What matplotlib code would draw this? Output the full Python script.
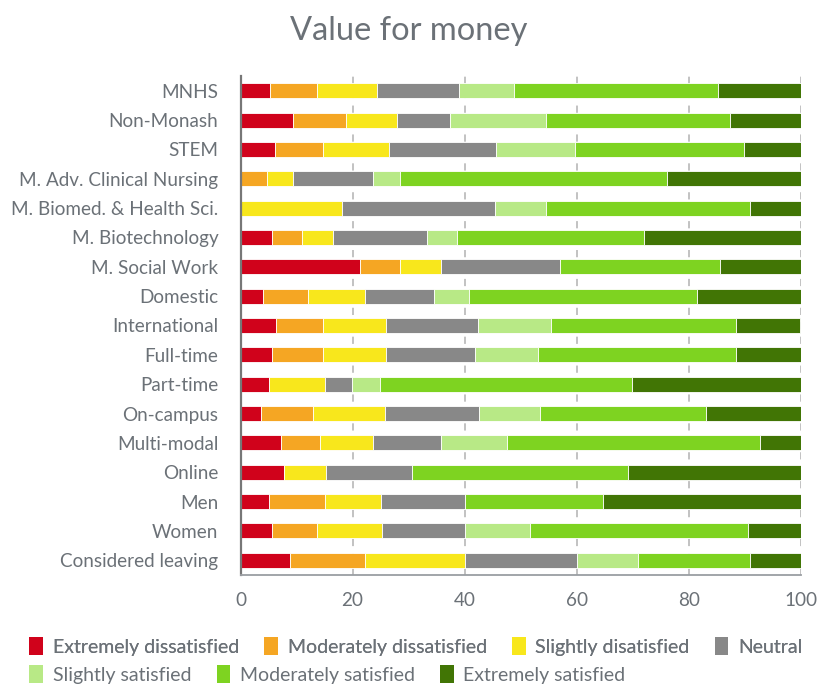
import numpy as np
import matplotlib
matplotlib.use("Agg")
import matplotlib.pyplot as plt
from matplotlib.patches import Patch

plt.rcParams['font.family'] = ['Lato', 'DejaVu Sans']

# categories, top to bottom
groups = ["MNHS", "Non-Monash", "STEM", "M. Adv. Clinical Nursing",
          "M. Biomed. & Health Sci.", "M. Biotechnology", "M. Social Work",
          "Domestic", "International", "Full-time", "Part-time", "On-campus",
          "Multi-modal", "Online", "Men", "Women", "Considered leaving"]

# percentages per response level (same order as groups)
extremely_dissatisfied = [5.3, 9.4, 6.1, 0.0, 0.0, 5.6, 21.4, 4.0, 6.3, 5.6, 5.0, 3.7, 7.2, 7.7, 5.1, 5.6, 8.8]
moderately_dissatisfied = [8.4, 9.4, 8.6, 4.7, 0.0, 5.4, 7.1, 8.1, 8.4, 9.1, 0.0, 9.2, 7.0, 0.0, 9.9, 8.1, 13.4]
slightly_dissatisfied = [10.7, 9.1, 11.9, 4.7, 18.2, 5.6, 7.3, 10.2, 11.3, 11.3, 10.0, 12.9, 9.4, 7.6, 10.0, 11.6, 17.8]
neutral = [14.6, 9.5, 19.1, 14.3, 27.2, 16.7, 21.2, 12.3, 16.4, 15.9, 4.9, 16.7, 12.2, 15.3, 15.1, 14.8, 20.0]
slightly_satisfied = [9.9, 17.2, 14.0, 4.8, 9.2, 5.4, 0.0, 6.2, 13.1, 11.3, 5.0, 11.0, 11.8, 0.0, 0.0, 11.5, 11.0]
moderately_satisfied = [36.4, 32.8, 30.2, 47.6, 36.3, 33.4, 28.6, 40.7, 32.9, 35.3, 45.0, 29.6, 45.2, 38.5, 24.7, 39.1, 19.9]
extremely_satisfied = [14.7, 12.6, 10.1, 23.9, 9.1, 27.9, 14.4, 18.5, 11.5, 11.5, 30.1, 16.9, 7.2, 30.9, 35.2, 9.3, 9.1]

levels = ["Extremely dissatisfied", "Moderately dissatisfied", "Slightly disatisfied",
          "Neutral", "Slightly satisfied", "Moderately satisfied", "Extremely satisfied"]
colors = ["#d0021b", "#f5a623", "#f8e71c", "#888888", "#b8e986", "#7ed321", "#417505"]
series = [extremely_dissatisfied, moderately_dissatisfied, slightly_dissatisfied,
          neutral, slightly_satisfied, moderately_satisfied, extremely_satisfied]

text_col = "#6b7177"

fig = plt.figure(figsize=(8.17, 6.84), dpi=100)
ax = fig.add_axes([0.2944, 0.1594, 0.6855, 0.7295])

y = np.arange(len(groups))
left = np.zeros(len(groups))
for vals, col in zip(series, colors):
    vals = np.array(vals)
    ax.barh(y, vals, left=left, height=0.51, color=col,
            edgecolor="white", linewidth=0.6, zorder=2)
    left += vals

ax.set_xlim(0, 100)
ax.set_ylim(len(groups) - 0.5, -0.5)
ax.set_yticks(y)
ax.set_yticklabels(groups)
ax.set_xticks([0, 20, 40, 60, 80, 100])
ax.tick_params(axis="both", length=0, labelsize=13.6, labelcolor=text_col)
ax.tick_params(axis="y", pad=16)
ax.tick_params(axis="x", pad=12)

ax.set_axisbelow(True)
ax.grid(axis="x", color="#bdbdbd", linestyle=(0, (4, 4)), linewidth=1.3)
ax.grid(axis="y", visible=False)
for s in ["top", "right"]:
    ax.spines[s].set_visible(False)
ax.spines["left"].set_color("#777777")
ax.spines["left"].set_linewidth(1.6)
ax.spines["bottom"].set_color("#9a9ea3")
ax.spines["bottom"].set_linewidth(1.3)

fig.text(0.5, 0.955, "Value for money", ha="center", va="center",
         fontsize=23.5, color=text_col)

# legend in two left-aligned rows
handles = [Patch(facecolor=c, edgecolor="none") for c in colors]
leg_kw = dict(frameon=False,
              prop={"family": ["Lato", "DejaVu Sans"], "size": 14, "weight": "normal"},
              labelcolor=text_col,
              handlelength=0.7, handleheight=1.0, handletextpad=0.5,
              columnspacing=1.3, borderaxespad=0, borderpad=0)
leg1 = fig.legend(handles[:4], levels[:4], ncol=4, loc="center left",
                  bbox_to_anchor=(0.036, 0.055), **leg_kw)
fig.add_artist(leg1)
fig.legend(handles[4:], levels[4:], ncol=3, loc="center left",
           bbox_to_anchor=(0.036, 0.014), **leg_kw)

fig.savefig("out.png", dpi=100)
